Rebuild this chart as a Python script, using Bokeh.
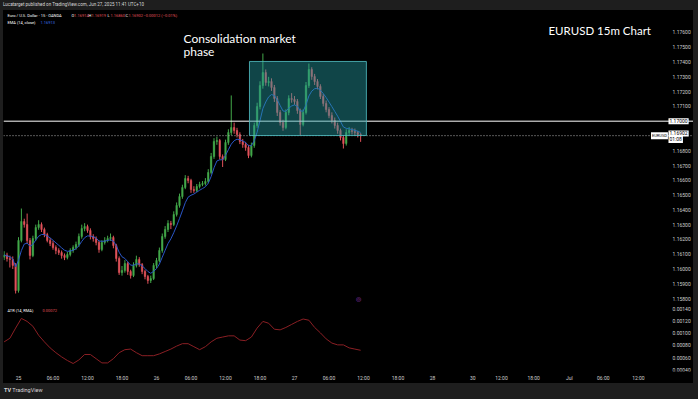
import pandas as pd
from bokeh.plotting import figure
from bokeh.models import (Span, BoxAnnotation, Label, FixedTicker, Range1d,
                          ColumnDataSource, Div)
from bokeh.core.properties import value
from bokeh.layouts import column, row
from bokeh.embed import file_html
from bokeh.resources import INLINE

# ---------------- data ----------------
# bar positions: hours since 25 Jun 00:00 (30-minute bars)
bar_hours = [-2.5 + 0.5 * i for i in range(125)]
first_open = 1.16080
closes = [1.16095, 1.16070,
          1.16064, 1.16024, 1.15854, 1.16193, 1.16321, 1.16301, 1.16193, 1.16091, 1.16206, 1.16281,
          1.16301, 1.16267, 1.16233, 1.16193, 1.16172, 1.16145, 1.16125, 1.16111, 1.16091, 1.16078,
          1.16098, 1.16125, 1.16145, 1.16166, 1.16220, 1.16274, 1.16287, 1.16260, 1.16220, 1.16206,
          1.16179, 1.16132, 1.16179, 1.16193, 1.16206, 1.16213, 1.16159, 1.16071, 1.15976, 1.15990,
          1.16037, 1.15983, 1.15956, 1.16024, 1.16064, 1.16030, 1.15983, 1.15949, 1.15922, 1.15935,
          1.16024, 1.16057, 1.16125, 1.16220, 1.16267, 1.16308, 1.16301, 1.16369, 1.16430, 1.16490,
          1.16551, 1.16612, 1.16599, 1.16538, 1.16531, 1.16558, 1.16572, 1.16578, 1.16592, 1.16653,
          1.16761, 1.16863, 1.16869, 1.16761, 1.16741, 1.16856, 1.16923, 1.16957, 1.16937, 1.16910,
          1.16863, 1.16842, 1.16822, 1.16768, 1.16835, 1.16971, 1.17099, 1.17241, 1.17329, 1.17262,
          1.17268, 1.17228, 1.17153, 1.17059, 1.16991, 1.16957, 1.17059, 1.17153, 1.17147, 1.17133,
          1.17072, 1.16978, 1.17059, 1.17241, 1.17350, 1.17302, 1.17268, 1.17235, 1.17167, 1.17120,
          1.17079, 1.17038, 1.17005, 1.16971, 1.16937, 1.16890, 1.16849, 1.16923, 1.16937, 1.16930,
          1.16923, 1.16910, 1.16902]
highs = [1.16120, 1.16110,
         1.16090, 1.16085, 1.16040, 1.16215, 1.16409, 1.16340, 1.16375, 1.16210, 1.16225, 1.16300,
         1.16330, 1.16315, 1.16280, 1.16245, 1.16210, 1.16190, 1.16160, 1.16140, 1.16125, 1.16105,
         1.16115, 1.16140, 1.16160, 1.16185, 1.16240, 1.16300, 1.16310, 1.16300, 1.16275, 1.16235,
         1.16220, 1.16190, 1.16195, 1.16215, 1.16225, 1.16240, 1.16225, 1.16170, 1.16085, 1.16020,
         1.16060, 1.16050, 1.15995, 1.16045, 1.16090, 1.16080, 1.16040, 1.15995, 1.15960, 1.15955,
         1.16040, 1.16075, 1.16145, 1.16240, 1.16290, 1.16330, 1.16325, 1.16390, 1.16450, 1.16510,
         1.16570, 1.16635, 1.16630, 1.16610, 1.16560, 1.16575, 1.16590, 1.16595, 1.16615, 1.16675,
         1.16785, 1.16885, 1.16895, 1.16880, 1.16775, 1.16875, 1.16945, 1.17174, 1.16990, 1.16955,
         1.16925, 1.16880, 1.16860, 1.16840, 1.16855, 1.16990, 1.17125, 1.17270, 1.17458, 1.17350,
         1.17300, 1.17290, 1.17245, 1.17170, 1.17075, 1.17010, 1.17080, 1.17175, 1.17190, 1.17170,
         1.17150, 1.17085, 1.17080, 1.17265, 1.17390, 1.17365, 1.17320, 1.17285, 1.17250, 1.17185,
         1.17140, 1.17095, 1.17060, 1.17025, 1.16990, 1.16950, 1.16905, 1.16945, 1.16960, 1.16955,
         1.16950, 1.16935, 1.16919]
lows = [1.16060, 1.16050,
        1.16010, 1.16000, 1.15834, 1.15840, 1.16180, 1.16280, 1.16170, 1.16065, 1.16080, 1.16190,
        1.16265, 1.16250, 1.16215, 1.16180, 1.16155, 1.16130, 1.16100, 1.16095, 1.16070, 1.16060,
        1.16065, 1.16085, 1.16110, 1.16130, 1.16150, 1.16205, 1.16255, 1.16245, 1.16200, 1.16185,
        1.16160, 1.16110, 1.16120, 1.16165, 1.16180, 1.16190, 1.16140, 1.16050, 1.15960, 1.15955,
        1.15975, 1.15960, 1.15935, 1.15945, 1.16010, 1.16015, 1.15965, 1.15930, 1.15900, 1.15905,
        1.15925, 1.16005, 1.16045, 1.16110, 1.16205, 1.16250, 1.16270, 1.16290, 1.16355, 1.16415,
        1.16475, 1.16540, 1.16580, 1.16515, 1.16515, 1.16520, 1.16545, 1.16560, 1.16565, 1.16580,
        1.16640, 1.16745, 1.16840, 1.16740, 1.16690, 1.16730, 1.16840, 1.16905, 1.16915, 1.16890,
        1.16845, 1.16820, 1.16800, 1.16750, 1.16755, 1.16820, 1.16955, 1.17080, 1.17220, 1.17240,
        1.17235, 1.17205, 1.17130, 1.17035, 1.16970, 1.16935, 1.16945, 1.17040, 1.17125, 1.17110,
        1.17050, 1.16905, 1.16965, 1.17045, 1.17225, 1.17280, 1.17245, 1.17215, 1.17150, 1.17100,
        1.17060, 1.17020, 1.16985, 1.16950, 1.16915, 1.16870, 1.16815, 1.16835, 1.16905, 1.16910,
        1.16900, 1.16890, 1.16860]

atr_hours = [-2.5 + i for i in range(63)]
atr_values = [0.00086,
              0.00092, 0.00109, 0.00125, 0.00120, 0.00112, 0.00097, 0.00086, 0.00076, 0.00068, 0.00061,
              0.00055, 0.00050, 0.00056, 0.00065, 0.00065, 0.00058, 0.00051, 0.00051, 0.00058, 0.00068,
              0.00073, 0.00074, 0.00068, 0.00063, 0.00063, 0.00063, 0.00066, 0.00070, 0.00074, 0.00079,
              0.00083, 0.00083, 0.00078, 0.00073, 0.00078, 0.00086, 0.00092, 0.00094, 0.00096, 0.00096,
              0.00089, 0.00088, 0.00094, 0.00109, 0.00120, 0.00117, 0.00107, 0.00106, 0.00110, 0.00115,
              0.00120, 0.00124, 0.00122, 0.00110, 0.00101, 0.00091, 0.00084, 0.00081, 0.00081, 0.00076,
              0.00074, 0.00072]

price_ticks = [1.158, 1.159, 1.160, 1.161, 1.162, 1.163, 1.164, 1.165, 1.166, 1.167, 1.168,
               1.171, 1.172, 1.173, 1.174, 1.175, 1.176]
atr_ticks = [0.0004, 0.0006, 0.0008, 0.0010, 0.0012, 0.0014]
time_ticks = [0, 6, 12, 18, 24, 30, 36, 42, 48, 54, 60, 66, 72, 79, 84, 89.6, 95.8, 101.7, 107.8]
time_labels = ["25", "06:00", "12:00", "18:00", "26", "06:00", "12:00", "18:00", "27", "06:00",
               "12:00", "18:00", "28", "30", "12:00", "18:00", "Jul", "06:00", "12:00"]

key_level = 1.17000
last_price = 1.16902

# ---------------- derived ----------------
opens = [first_open] + closes[:-1]
UP, DOWN = "#43a84a", "#e0525a"
colors = [UP if c >= o else DOWN for o, c in zip(opens, closes)]
src = ColumnDataSource(dict(x=bar_hours, high=highs, low=lows,
                            top=[max(o, c) for o, c in zip(opens, closes)],
                            bottom=[min(o, c) for o, c in zip(opens, closes)],
                            color=colors))
ema = pd.Series(closes).ewm(span=7, adjust=False).mean().tolist()

FONT = "Roboto"
AXC = "#cfcfcf"
GRAY = "#1e1e1e"
RED = "#e0525a"
xr = Range1d(-2.6087, 117.391)
SCALE_X = 113.74          # x (hours) where the right price-scale texts start


def scale_texts(fig, ticks):
    fig.text(x=[SCALE_X] * len(ticks), y=ticks, text=["%.5f" % t for t in ticks],
             text_font=value(FONT), text_font_size="5px", text_color=AXC,
             text_baseline="middle", text_align="left")


def lab(fig, x, y, text, color="white", size="4px", font=FONT, **kw):
    fig.add_layout(Label(x=x, y=y, text=text, text_color=color, text_font_size=size,
                         text_font=font, text_baseline="middle", **kw))


# ---------------- price pane ----------------
p = figure(width=690, height=292, x_range=xr, y_range=Range1d(1.157732, 1.1774885),
           output_backend="svg", toolbar_location=None, x_axis_location=None,
           y_axis_location=None, min_border_left=0, min_border_right=0,
           min_border_top=0, min_border_bottom=0, background_fill_color="black",
           border_fill_color="black", outline_line_color=None)
p.grid.visible = False

p.segment(x0="x", y0="low", x1="x", y1="high", color="color", line_width=1, source=src)
p.vbar(x="x", width=0.26, top="top", bottom="bottom", fill_color="color",
       line_color="color", line_width=0.5, source=src)
p.line(bar_hours, ema, line_color="#2a56c6", line_width=1)

p.add_layout(Span(location=key_level, dimension="width", line_color="white", line_width=1))
p.add_layout(Span(location=last_price, dimension="width", line_color="#b0b0b0",
                  line_width=1, line_dash="1 2"))
p.add_layout(BoxAnnotation(left=40.17, right=60.5, top=1.17404, bottom=1.16903,
                           fill_color="#239aa0", fill_alpha=0.45, line_color="#4fb8bd",
                           line_width=1, line_alpha=0.85))
scale_texts(p, price_ticks)

# legend lines
lab(p, -1.91, 1.17715, "Euro / U.S. Dollar · 15 · OANDA")
lab(p, 9.22, 1.17715, "O")
lab(p, 9.67, 1.17715, "1.16914", RED)
lab(p, 12.17, 1.17715, "H")
lab(p, 12.70, 1.17715, "1.16919", RED)
lab(p, 15.48, 1.17715, "L")
lab(p, 16.00, 1.17715, "1.16860", RED)
lab(p, 18.61, 1.17715, "C")
lab(p, 19.13, 1.17715, "1.16902", RED)
lab(p, 21.74, 1.17715, "−0.00012 (−0.01%)", RED)
lab(p, -1.91, 1.17668, "EMA (14, close)")
lab(p, 3.83, 1.17668, "1.16913", "#3b6fe0")

# titles
lab(p, 28.7, 1.17559, "Consolidation market", size="12px", font="Lato")
lab(p, 28.7, 1.17471, "phase", size="12px", font="Lato")
lab(p, 92.17, 1.17614, "EURUSD 15m Chart", size="11.5px", font="Lato")

# right-scale price tags
lab(p, 113.04, key_level, "1.17000", "black", size="5px",
    background_fill_color="white", padding=1)
lab(p, 110.0, last_price, "EURUSD", "black", size="4px",
    background_fill_color="white", padding=1)
lab(p, 113.04, 1.16917, "1.16902", "black", size="5px",
    background_fill_color="white", padding=1)
lab(p, 113.04, 1.16880, "01:08", "black", size="5px",
    background_fill_color="white", padding=1)
lab(p, 59.13, 1.15803, "◎", "#a43fc0", size="6px", font="DejaVu Sans", text_align="center")

# ---------------- ATR pane ----------------
pa = figure(width=690, height=81, x_range=xr, y_range=Range1d(0.0003672, 0.0015148),
            output_backend="svg", toolbar_location=None, y_axis_location=None,
            min_border_left=0, min_border_right=0, min_border_top=0, min_border_bottom=11,
            background_fill_color="black", border_fill_color="black", outline_line_color=None)
pa.grid.visible = False
ax = pa.xaxis[0]
ax.ticker = FixedTicker(ticks=time_ticks)
ax.major_label_overrides = {t: s for t, s in zip(time_ticks, time_labels)}
ax.axis_line_color = None
ax.major_tick_line_color = None
ax.minor_tick_line_color = None
ax.major_tick_out = 0
ax.major_tick_in = 0
ax.major_label_text_color = AXC
ax.major_label_text_font_size = "5px"
ax.major_label_text_font = FONT
ax.major_label_standoff = 3

pa.line(atr_hours, atr_values, line_color="#8a1f24", line_width=1)
scale_texts(pa, atr_ticks)
lab(pa, -1.91, 0.0013836, "ATR (14, RMA)")
lab(pa, 4.17, 0.0013836, "0.00072", RED)

# ---------------- header / footer / side strips ----------------
hdr_style = {"background-color": GRAY, "color": "#d8d8d8", "font-size": "4.5px",
             "line-height": "10px", "font-family": "Roboto", "white-space": "nowrap",
             "overflow": "hidden", "padding-left": "3px"}
header = Div(text="Lucatarget published on TradingView.com, Jun 27, 2025 11:41 UTC+10",
             width=698, height=10, margin=0, styles=hdr_style)
ftr_style = dict(hdr_style)
ftr_style.update({"font-size": "5.5px", "line-height": "14px", "padding-left": "4px"})
footer = Div(text="<b>TV</b> TradingView", width=698, height=16, margin=0, styles=ftr_style)
left_strip = Div(text="", width=3, height=373, margin=0, styles={"background-color": GRAY})
right_strip = Div(text="", width=5, height=373, margin=0, styles={"background-color": GRAY})

panes = column(p, pa, spacing=0, styles={"background-color": "black"})
layout = column(header, row(left_strip, panes, right_strip, spacing=0,
                            styles={"background-color": GRAY}),
                footer, spacing=0, styles={"background-color": GRAY})
open("out.html", "w").write(file_html(layout, INLINE))
